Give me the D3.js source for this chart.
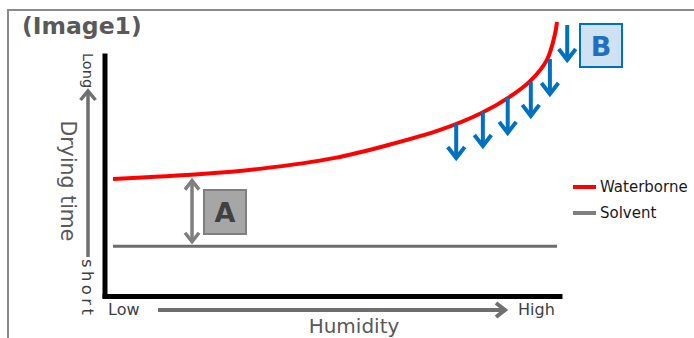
<!DOCTYPE html>
<html><head><meta charset="utf-8">
<script src="https://cdn.jsdelivr.net/npm/d3@7"></script>
<style>html,body{margin:0;padding:0;background:#fff;overflow:hidden}</style>
</head><body>
<script>
// ---- data ----
const humidity   = [0, 20, 33, 50, 62, 74, 83, 89, 94, 97.7, 99.5, 100];
const waterborne = [42.7, 44.5, 46.4, 50.4, 55.1, 60.8, 66.8, 72.3, 78.5, 86.1, 95.3, 100];
const solvent    = [18.2, 18.2];
const solventHum = [0, 100];
const arrowHum   = [77.3, 83.3, 88.9, 94.1, 98.4, 102.3];
const arrowFrom  = [63.1, 67.2, 72.3, 78.1, 86.5, 98.9];
const arrowTo    = [49.6, 54.0, 58.8, 65.0, 73.0, 85.4];
const gapHum = 17.8;            // double arrow "A" position
const xTickLabels = ["Low", "High"];
const yTickLabels = ["short", "Long"];
const seriesNames = ["Waterborne", "Solvent"];
const title = "(Image1)";

const W = 694, H = 338;
const svg = d3.select("body").append("svg").attr("width", W).attr("height", H)
  .style("font-family", "'DejaVu Sans', Verdana, sans-serif");

const x = d3.scaleLinear().domain([0, 100]).range([113, 557]);
const y = d3.scaleLinear().domain([0, 100]).range([296, 22]);

// frame
svg.append("path").attr("d", "M8,338 V10 H694").attr("fill", "none")
  .attr("stroke", "#8a8a8a").attr("stroke-width", 2);

// title
svg.append("text").attr("x", 22).attr("y", 34).text(title)
  .attr("font-size", 23.5).attr("font-weight", "bold").attr("fill", "#595959");

// axes (no ticks)
const axX = d3.scaleLinear().range([102, 562]);
const axY = d3.scaleLinear().range([298, 53]);
const gx = svg.append("g").attr("transform", "translate(0,296)")
  .call(d3.axisBottom(axX).tickValues([]).tickSizeOuter(0));
const gy = svg.append("g").attr("transform", "translate(104.5,0)")
  .call(d3.axisLeft(axY).tickValues([]).tickSizeOuter(0));
[gx, gy].forEach(g => g.select(".domain").attr("stroke", "#000").attr("stroke-width", 5));

// chevron arrow helper
function arrow(x1, y1, x2, y2, color, sw, hw, hl, both) {
  const g = svg.append("g").attr("stroke", color).attr("stroke-width", sw)
    .attr("fill", "none").attr("stroke-linejoin", "miter").attr("stroke-linecap", "butt");
  g.append("line").attr("x1", x1).attr("y1", y1).attr("x2", x2).attr("y2", y2);
  const head = (tx, ty, fx, fy) => {
    const a = Math.atan2(ty - fy, tx - fx);
    const bx = tx - hl * Math.cos(a), by = ty - hl * Math.sin(a);
    const px = -Math.sin(a) * hw / 2, py = Math.cos(a) * hw / 2;
    g.append("path").attr("d", `M${bx + px},${by + py} L${tx},${ty} L${bx - px},${by - py}`);
  };
  head(x2, y2, x1, y1);
  if (both) head(x1, y1, x2, y2);
}

// series lines
const line = d3.line().x(d => x(d[0])).y(d => y(d[1])).curve(d3.curveCatmullRom.alpha(0.5));
svg.append("path").datum(solventHum.map((h, i) => [h, solvent[i]]))
  .attr("d", line).attr("fill", "none").attr("stroke", "#6d6d6d").attr("stroke-width", 3);
svg.append("path").datum(humidity.map((h, i) => [h, waterborne[i]]))
  .attr("d", line).attr("fill", "none").attr("stroke", "#ff0000").attr("stroke-width", 4);

// blue arrows
arrowHum.forEach((h, i) => arrow(x(h), y(arrowFrom[i]), x(h), y(arrowTo[i]) - 2, "#0070c0", 4, 17, 11));

// double arrow A
const gapTop = 42.1, gapBot = 19.8;
arrow(x(gapHum), y(gapTop), x(gapHum), y(gapBot), "#7f7f7f", 3.5, 14, 9, true);

// boxes
function box(x0, y0, w, h, fill, stroke, label, color) {
  svg.append("rect").attr("x", x0).attr("y", y0).attr("width", w).attr("height", h)
    .attr("fill", fill).attr("stroke", stroke).attr("stroke-width", 2);
  svg.append("text").attr("x", x0 + w / 2).attr("y", y0 + h / 2 + 10).text(label)
    .attr("text-anchor", "middle").attr("font-size", 27).attr("font-weight", "bold").attr("fill", color);
}
box(204, 190, 42, 44, "#a6a6a6", "#7f7f7f", "A", "#404040");
box(580, 24, 42, 43, "#cfe2f3", "#0070c0", "B", "#1f70c0");

// y axis annotation
arrow(88, 257, 88, 91, "#6f6f6f", 3.5, 15, 9);
svg.append("text").attr("transform", "translate(68,181) rotate(90)").attr("text-anchor", "middle")
  .attr("dominant-baseline", "central").text("Drying time").attr("font-size", 20.5).attr("fill", "#595959");
svg.append("text").attr("transform", "translate(88,53) rotate(90)").attr("text-anchor", "start")
  .attr("dominant-baseline", "central").text(yTickLabels[1]).attr("font-size", 14.5).attr("fill", "#404040");
svg.append("text").attr("transform", "translate(87,259) rotate(90)").attr("text-anchor", "start")
  .attr("dominant-baseline", "central").text(yTickLabels[0]).attr("font-size", 16.5)
  .attr("textLength", 56).attr("lengthAdjust", "spacing").attr("fill", "#404040");

// x axis annotation
arrow(158, 310, 505, 310, "#6f6f6f", 4, 14, 9);
svg.append("text").attr("x", 108).attr("y", 315).text(xTickLabels[0]).attr("font-size", 16).attr("fill", "#404040");
svg.append("text").attr("x", 518).attr("y", 315).text(xTickLabels[1]).attr("font-size", 16).attr("fill", "#404040");
svg.append("text").attr("x", 354).attr("y", 333).attr("text-anchor", "middle").text("Humidity")
  .attr("font-size", 20).attr("fill", "#595959");

// legend
const legColors = ["#ff0000", "#7f7f7f"], legY = [187, 213];
seriesNames.forEach((n, i) => {
  svg.append("line").attr("x1", 573).attr("x2", 596).attr("y1", legY[i]).attr("y2", legY[i])
    .attr("stroke", legColors[i]).attr("stroke-width", 4);
  svg.append("text").attr("x", 600).attr("y", legY[i]).attr("dominant-baseline", "central")
    .text(n).attr("font-size", 15).attr("fill", "#1a1a1a");
});
</script>
</body></html>
